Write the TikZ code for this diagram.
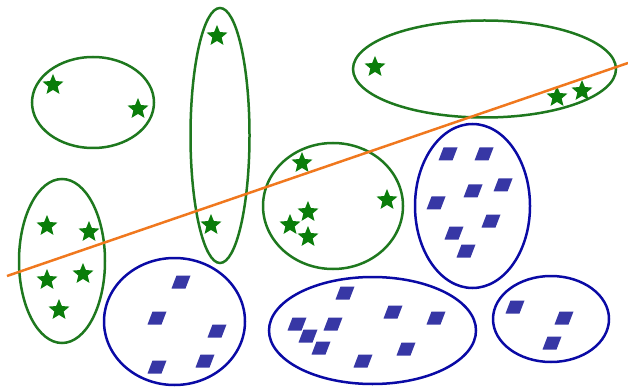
\documentclass[tikz,border=0pt]{standalone}
\usetikzlibrary{shapes.geometric}
\definecolor{gstar}{RGB}{10,125,10}
\definecolor{gline}{RGB}{30,120,30}
\definecolor{bline}{RGB}{10,10,165}
\definecolor{bfill}{RGB}{55,55,165}
\definecolor{oline}{RGB}{240,120,30}
\tikzset{
  gell/.style={draw=gline,line width=2.5pt},
  bell/.style={draw=bline,line width=2.5pt},
  gs/.style={shape=star,star points=5,star point ratio=2.25,minimum size=22pt,inner sep=0pt,fill=gstar,draw=none},
  dia/.pic={\fill[bfill] (-4.5,-6.5)--(9.5,-6.5)--(4.5,6.5)--(-9.5,6.5)--cycle;}
}
\begin{document}
\begin{tikzpicture}[x=1pt,y=-1pt]
\useasboundingbox (0,0) rectangle (628,387);
% green ellipses
\draw[gell] (93,102.5) ellipse [x radius=61,y radius=45.5];
\draw[gell] (220,135.5) ellipse [x radius=29.5,y radius=127.5];
\draw[gell] (484.5,69) ellipse [x radius=131.5,y radius=48.5];
\draw[gell] (333,206) ellipse [x radius=70,y radius=63];
\draw[gell] (62,261) ellipse [x radius=43,y radius=82];
% blue ellipses
\draw[bell] (174.5,321.5) ellipse [x radius=70.5,y radius=63.5];
\draw[bell] (472.5,206) ellipse [x radius=57.5,y radius=82];
\draw[bell] (372.5,330.5) ellipse [x radius=103.5,y radius=53.5];
\draw[bell] (551,319) ellipse [x radius=58,y radius=43];
% stars
\node[gs] (s1) at (53,85) {};
\node[gs] (s2) at (138,109) {};
\node[gs] (s3) at (217,36) {};
\node[gs] (s4) at (211,225) {};
\node[gs] (s5) at (375,67) {};
\node[gs] (s6) at (557,97) {};
\node[gs] (s7) at (582,91) {};
\node[gs] (s8) at (302,163) {};
\node[gs] (s9) at (387,200) {};
\node[gs] (s10) at (308,212) {};
\node[gs] (s11) at (290,225) {};
\node[gs] (s12) at (308,237) {};
\node[gs] (s13) at (47,226) {};
\node[gs] (s14) at (89,232) {};
\node[gs] (s15) at (47,280) {};
\node[gs] (s16) at (83,274) {};
\node[gs] (s17) at (59,310) {};
% orange line
\coordinate (la) at (7,276);
\coordinate (lb) at (628,63);
\draw[oline,line width=2.5pt] (la) -- (lb);
% diamonds
\foreach \p in {(181,282),(157,318),(217,331),(157,367),(205,361),
  (448,154),(484,154),(473,191),(503,185),(436,203),(491,221),(454,233),(466,251),
  (345,293),(297,324),(333,324),(308,336),(321,348),(363,361),(393,312),(436,318),(406,349),
  (515,307),(564,318),(552,343)}
  \pic at \p {dia};
\end{tikzpicture}
\end{document}
